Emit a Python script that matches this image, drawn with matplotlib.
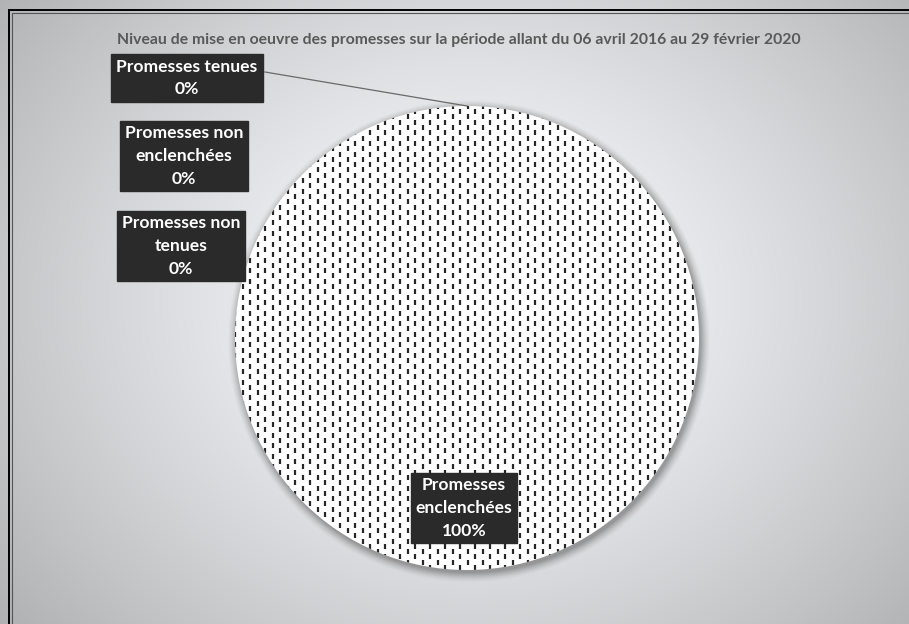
import numpy as np
import matplotlib.pyplot as plt
from matplotlib.collections import LineCollection
from matplotlib.patches import Circle

plt.rcParams['font.family'] = ['Lato', 'DejaVu Sans']

categories = ['Promesses enclenchées', 'Promesses tenues',
              'Promesses non enclenchées', 'Promesses non tenues']
values = [100, 0, 0, 0]
label_texts = ['Promesses\nenclenchées', 'Promesses tenues',
               'Promesses non\nenclenchées', 'Promesses non\ntenues']
title = ('Niveau de mise en oeuvre des promesses sur la période '
         'allant du 06 avril 2016 au 29 février 2020')

W, H = 909, 624
fig = plt.figure(figsize=(W / 100, H / 100), dpi=100)
ax = fig.add_axes([0, 0, 1, 1])

# radial grey background, lightest near the middle
yy, xx = np.mgrid[0:H, 0:W]
r = np.hypot((xx - 470) / 560, (yy - 300) / 470)
bg = 1.0 - 0.27 * np.clip(r, 0, 1.2) ** 1.3
rgb = np.dstack([bg * 0.985, bg * 0.99, bg])
ax.imshow(rgb, extent=[0, W, 0, H], origin='upper', aspect='auto',
          zorder=0, interpolation='bilinear')

cx, cy, R = 467, H - 338, 232

# soft shadow under the pie
for k, a in zip(np.linspace(9, 0, 10), np.linspace(0.015, 0.08, 10)):
    ax.add_patch(Circle((cx + 2, cy - 3), R + k, color='#303030',
                        alpha=a, lw=0, zorder=1))

wedges, _ = ax.pie(values, center=(cx, cy), radius=R, startangle=90,
                   counterclock=False, colors=['white'] * len(values),
                   wedgeprops=dict(linewidth=0))
for w in wedges:
    w.set_zorder(2)

# dashed vertical texture clipped to the big slice
segs = []
period, dash, step = 10.6, 5.0, 7.5
for i, x in enumerate(np.arange(cx - R, cx + R, step)):
    off = (i % 2) * period / 2
    for y0 in np.arange(cy - R - period + off, cy + R, period):
        segs.append([(x, y0), (x, y0 + dash)])
lc = LineCollection(segs, colors='#262626', linewidths=1.6, zorder=3,
                    capstyle='butt')
ax.add_collection(lc)
lc.set_clip_path(wedges[0])

box = dict(boxstyle='square,pad=0.28', facecolor='#2a2a2a',
           edgecolor='#2a2a2a')
txt_kw = dict(color='white', fontsize=12.6, fontweight='bold',
              ha='center', va='center', linespacing=1.5, zorder=6,
              bbox=box)

label_pos = [(187, H - 78), (184, H - 156), (181, H - 246)]
label_pos = [(464, H - 508)] + label_pos
for text, v, (lx, ly) in zip(label_texts, values, label_pos):
    ax.text(lx, ly, f'{text}\n{v}%', **txt_kw)

# leader line from the first zero slice to its label
theta = np.deg2rad(wedges[1].theta1)
ax.plot([265, cx + R * np.cos(theta)], [H - 72, cy + R * np.sin(theta)],
        color='#6a6a6a', lw=0.9, zorder=5)

ax.text(W / 2 + 4, H - 40, title, ha='center', va='center', fontsize=11.3,
        fontweight='bold', color='#595959', zorder=6)

# frame along the top and left edges
ax.plot([8.5, 8.5, W], [0, H - 9.5, H - 9.5], color='black', lw=1.4,
        zorder=7, solid_joinstyle='miter')
ax.plot([11.5, 11.5, W], [0, H - 12.5, H - 12.5], color='#555555', lw=0.8,
        zorder=7, solid_joinstyle='miter')

ax.set_xlim(0, W)
ax.set_ylim(0, H)
ax.set_axis_off()
fig.savefig('out.png', dpi=100)
